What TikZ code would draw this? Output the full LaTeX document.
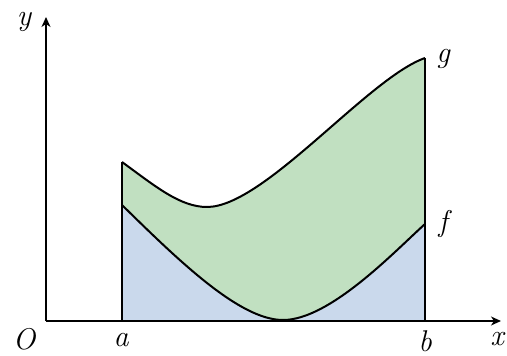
\documentclass[tikz,border=0pt]{standalone}
\usetikzlibrary{arrows.meta}
\definecolor{areag}{RGB}{193,224,193}
\definecolor{areaf}{RGB}{202,217,236}
\begin{document}
\begin{tikzpicture}[x=1pt,y=-1pt,
  axis/.style={line width=1.5pt,-{Stealth[length=10pt,width=9pt,inset=3pt]}},
  curve/.style={line width=2pt,line join=round},
  lbl/.style={anchor=base,inner sep=0pt,font=\fontsize{30}{36}\selectfont\itshape}]
\useasboundingbox (0,0) rectangle (507,356);
% key points
\coordinate (O) at (46,321);
\coordinate (A0) at (122,321);
\coordinate (B0) at (425,321);
\coordinate (Ga) at (122,162);
\coordinate (Gm) at (207,207);
\coordinate (Gb) at (425,58);
\coordinate (Fa) at (122,205);
\coordinate (Fm) at (283,320);
\coordinate (Fb) at (425,224);
\coordinate (Xend) at (501,321);
\coordinate (Yend) at (46,17);
% green region (between f and g)
\fill[areag] (Ga) .. controls (155,186) and (180,207) .. (Gm)
  .. controls (264,207) and (368,78) .. (Gb) -- (B0) -- (A0) -- cycle;
% blue region (under f)
\fill[areaf] (A0) -- (Fa) .. controls (180,262) and (240,320) .. (Fm)
  .. controls (330,320) and (395,251) .. (Fb) -- (B0) -- cycle;
% axes
\draw[axis] (O) -- (Xend);
\draw[axis] (O) -- (Yend);
% curves and bounds
\draw[curve] (Ga) .. controls (155,186) and (180,207) .. (Gm)
  .. controls (264,207) and (368,78) .. (Gb);
\draw[curve] (Fa) .. controls (180,262) and (240,320) .. (Fm)
  .. controls (330,320) and (395,251) .. (Fb);
\draw[curve] (A0) -- (Ga);
\draw[curve] (B0) -- (Gb);
% labels
\node[lbl] (ly) at (24,25) {y};
\node[lbl] (lO) at (24,349) {O};
\node[lbl] (la) at (121,346) {a};
\node[lbl] (lb) at (425,351) {b};
\node[lbl] (lx) at (497,345) {x};
\node[lbl] (lg) at (443,62) {g};
\node[lbl] (lf) at (443,231) {f};
\end{tikzpicture}
\end{document}
